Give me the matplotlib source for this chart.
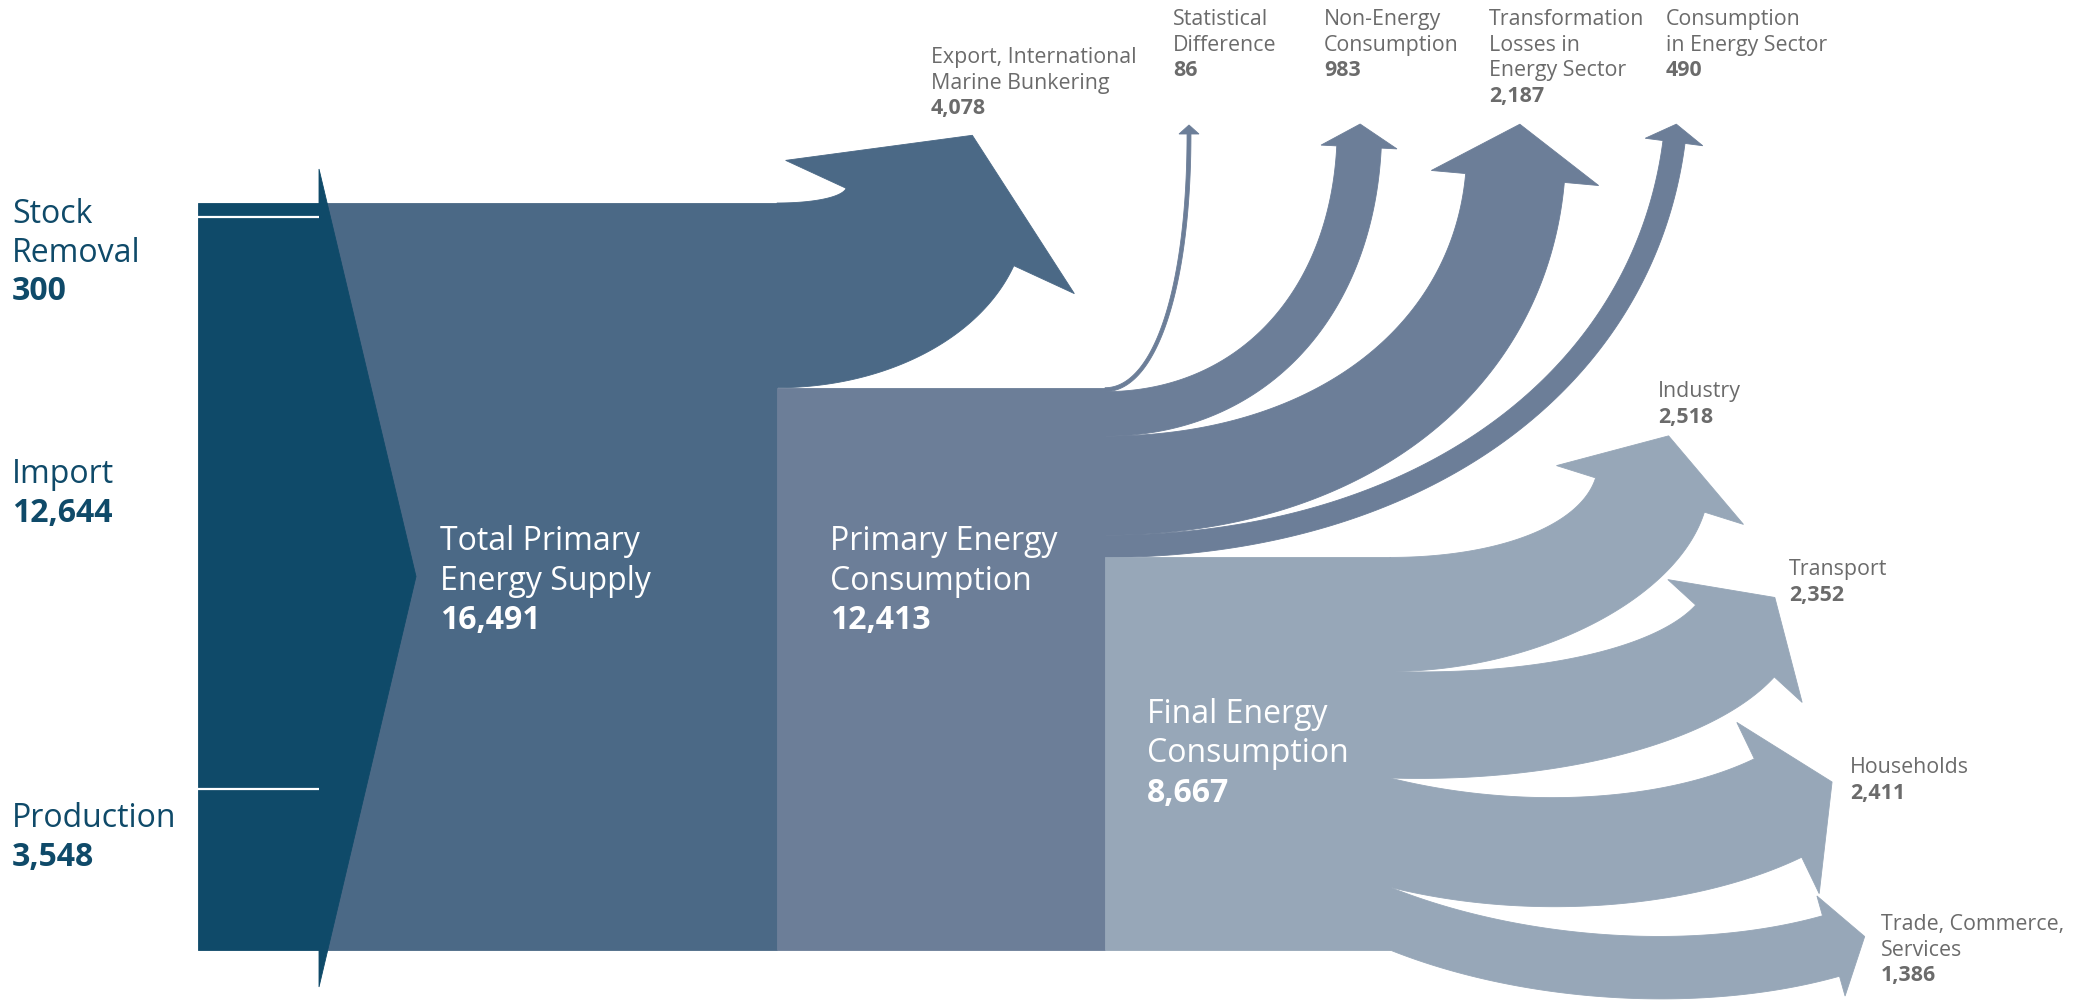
import numpy as np
import matplotlib
matplotlib.use("Agg")
import matplotlib.pyplot as plt
from matplotlib.patches import Polygon

# ---------------- data ----------------
source_labels = ["Stock\nRemoval", "Import", "Production"]
source_values = [300, 12644, 3548]
tpes_label = "Total Primary\nEnergy Supply"
tpes_value = 16491
export_label = "Export, International\nMarine Bunkering"
export_value = 4078
pec_label = "Primary Energy\nConsumption"
pec_value = 12413
pec_out_labels = ["Statistical\nDifference", "Non-Energy\nConsumption",
                  "Transformation\nLosses in\nEnergy Sector", "Consumption\nin Energy Sector"]
pec_out_values = [86, 983, 2187, 490]
fec_label = "Final Energy\nConsumption"
fec_value = 8667
final_labels = ["Industry", "Transport", "Households", "Trade, Commerce,\nServices"]
final_values = [2518, 2352, 2411, 1386]

# ---------------- style ----------------
C_SRC = "#0f4a69"
C_TPES = "#4b6986"
C_PEC = "#6c7e98"
C_FEC = "#97a7b8"
C_GREY = "#6b6b6b"
FONT = ["Open Sans", "DejaVu Sans"]
plt.rcParams["font.family"] = FONT

W, H = 2082, 1002
fig = plt.figure(figsize=(W / 100, H / 100), dpi=100)
ax = fig.add_axes([0, 0, 1, 1])
ax.set_xlim(0, W)
ax.set_ylim(H, 0)
ax.axis("off")

TOP, BOT = 203, 950
K = (BOT - TOP) / tpes_value          # px per unit


def fmt(v):
    return f"{v:,}"


def unit(v):
    v = np.asarray(v, float)
    return v / np.linalg.norm(v)


def bezier(P0, P1, P2, P3, n=120):
    t = np.linspace(0, 1, n)[:, None]
    return (1 - t) ** 3 * P0 + 3 * (1 - t) ** 2 * t * P1 + 3 * (1 - t) * t ** 2 * P2 + t ** 3 * P3


def edge(P0, a0, P3, d, f=0.6):
    A = np.array([[a0[0], d[0]], [a0[1], d[1]]])
    try:
        t, s = np.linalg.solve(A, P3 - P0)
    except np.linalg.LinAlgError:
        t = s = -1
    if t <= 0 or s <= 0:
        t = s = np.linalg.norm(P3 - P0) / 2
    return bezier(P0, P0 + f * t * a0, P3 - f * s * d, P3)


def band(x0, y_top, w, a0, B, d, h, L, color, ft=0.6, fb=0.6, z=2):
    a0 = unit(a0)
    d = unit(d)
    B = np.asarray(B, float)
    nl = np.array([d[1], -d[0]])
    Pt = np.array([x0, y_top], float)
    Pb = np.array([x0, y_top + w], float)
    top = edge(Pt, a0, B + nl * w / 2, d, ft)
    bot = edge(Pb, a0, B - nl * w / 2, d, fb)
    head = np.array([B + nl * h, B + d * L, B - nl * h])
    pts = np.vstack([top, head, bot[::-1]])
    ax.add_patch(Polygon(pts, closed=True, fc=color, ec=color, lw=0.6, zorder=z))


def rect(x0, x1, y0, y1, color, z=1):
    ax.add_patch(Polygon([[x0, y0], [x1, y0], [x1, y1], [x0, y1]], closed=True,
                         fc=color, ec=color, lw=0.6, zorder=z))


# ---------------- blocks ----------------
X_SRC0, X_SRC1, X_TIP = 198, 319, 416
X_PEC0, X_PEC1, X_FEC1 = 777, 1105, 1390

rect(X_SRC1, X_PEC0, TOP, BOT, C_TPES, z=1)

# export band
band(X_PEC0, TOP, export_value * K, (1, 0), (930, 227), (0.42, -0.91), 159, 101,
     C_TPES, ft=0.6, fb=0.6, z=2)

pec_top = BOT - pec_value * K
rect(X_PEC0, X_PEC1, pec_top, BOT, C_PEC, z=3)

# primary consumption outflows
pec_geo = [
    dict(B=(1189, 134), d=(0.0, -1), h=10, L=9, ft=0.6, fb=0.6),
    dict(B=(1359, 147), d=(0.05, -1), h=38, L=23, ft=0.6, fb=0.6),
    dict(B=(1515, 178), d=(0.09, -1), h=84, L=54, ft=0.6, fb=0.6),
    dict(B=(1674, 142), d=(0.13, -1), h=29, L=18, ft=0.6, fb=0.6),
]
y = pec_top
for v, g in zip(pec_out_values, pec_geo):
    w = v * K
    band(X_PEC1, y, w, (1, 0), g["B"], g["d"], g["h"], g["L"], C_PEC,
         ft=g["ft"], fb=g["fb"], z=4)
    y += w

fec_top = BOT - fec_value * K
rect(X_PEC1, X_FEC1, fec_top, BOT, C_FEC, z=5)

fin_geo = [
    dict(a0=(1, 0.0), B=(1650, 495), d=(0.30, -0.954), h=98, L=62, ft=0.6, fb=0.55),
    dict(a0=(1, 0.03), B=(1735, 641), d=(0.675, -0.738), h=91, L=59, ft=0.6, fb=0.6),
    dict(a0=(1, 0.25), B=(1778, 808), d=(0.90, -0.433), h=95, L=60, ft=0.6, fb=0.6),
    dict(a0=(1, 0.40), B=(1831, 946), d=(0.96, -0.27), h=52, L=35, ft=0.6, fb=0.6),
]
y = fec_top
for v, g in zip(final_values, fin_geo):
    w = v * K
    band(X_FEC1, y, w, g["a0"], g["B"], g["d"], g["h"], g["L"], C_FEC,
         ft=g["ft"], fb=g["fb"], z=6)
    y += w

# source block with pointed arrow
rect(X_SRC0, X_SRC1, TOP, BOT, C_SRC, z=8)
mid = (TOP + BOT) / 2
ax.add_patch(Polygon([[X_SRC1, TOP - 34], [X_TIP, mid], [X_SRC1, BOT + 37]], closed=True,
                     fc=C_SRC, ec=C_SRC, lw=0.6, zorder=8))
y_sep1 = TOP + source_values[0] * K
y_sep2 = BOT - source_values[2] * K
for ys in (y_sep1, y_sep2):
    ax.plot([X_SRC0, X_SRC1], [ys, ys], color="white", lw=1.6, zorder=9,
            solid_capstyle="butt")

# ---------------- text ----------------
BIG = 23
SMALL = 15.4


def label(x, y_base, name, value, color, size, step):
    lines = name.split("\n")
    for i, ln in enumerate(lines):
        ax.text(x, y_base + i * step, ln, color=color, fontsize=size,
                ha="left", va="baseline", zorder=20)
    ax.text(x, y_base + len(lines) * step, fmt(value), color=color, fontsize=size,
            fontweight="bold", ha="left", va="baseline", zorder=20)


src_base = [223, 483, 827]
for nm, v, yb in zip(source_labels, source_values, src_base):
    label(12, yb, nm, v, C_SRC, BIG, 38.5)

label(440, 550, tpes_label, tpes_value, "white", BIG, 39.5)
label(830, 550, pec_label, pec_value, "white", BIG, 39.5)
label(1147, 723, fec_label, fec_value, "white", BIG, 39.5)

label(931, 63, export_label, export_value, C_GREY, SMALL, 25.5)
pec_lab_x = [1173, 1324, 1489, 1666]
for nm, v, x in zip(pec_out_labels, pec_out_values, pec_lab_x):
    label(x, 25, nm, v, C_GREY, SMALL, 25.5)

fin_lab = [(1658, 397), (1789, 575), (1850, 773), (1881, 930)]
for nm, v, (x, yb) in zip(final_labels, final_values, fin_lab):
    label(x, yb, nm, v, C_GREY, SMALL, 25.5)

fig.savefig("out.png", dpi=100, facecolor="white")
